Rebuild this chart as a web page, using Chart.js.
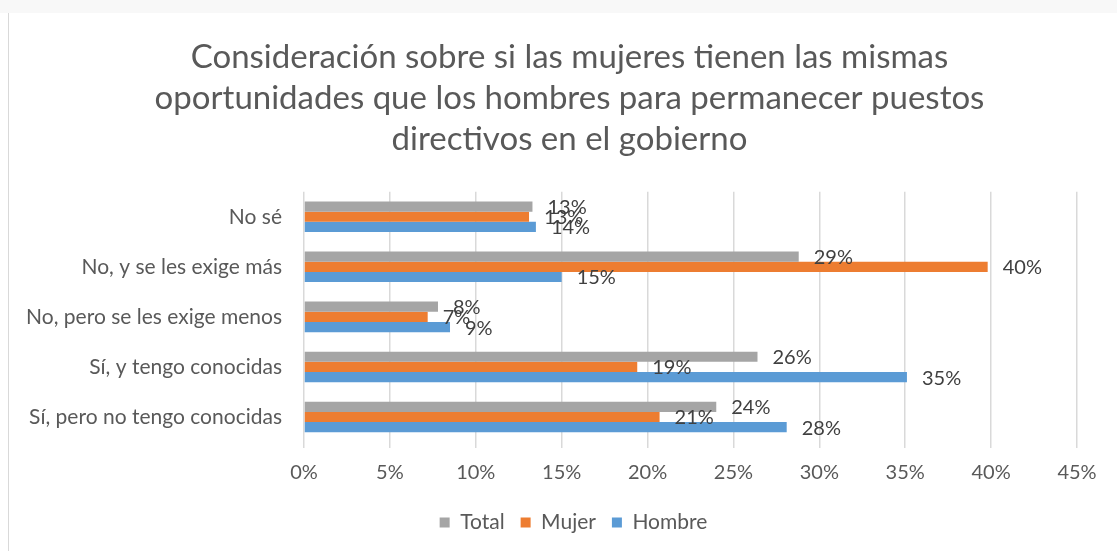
<!DOCTYPE html>
<html>
<head>
<meta charset="utf-8">
<script src="https://cdn.jsdelivr.net/npm/chart.js@4"></script>
<style>
  html, body { margin: 0; padding: 0; background: #fff; }
  #wrap { position: relative; width: 1117px; height: 551px; overflow: hidden; }
  #topstrip { position: absolute; left: 0; top: 0; width: 1117px; height: 13px; background: #f8f8f8; }
  #frame { position: absolute; left: 8px; top: 13px; width: 1109px; height: 538px; border-left: 1px solid #d9d9d9; }
  canvas { position: absolute; left: 0; top: 0; }
</style>
</head>
<body>
<div id="wrap">
  <div id="topstrip"></div>
  <div id="frame"></div>
  <canvas id="chart" width="1117" height="551"></canvas>
</div>
<script>
const categories = [
  "No sé",
  "No, y se les exige más",
  "No, pero se les exige menos",
  "Sí, y tengo conocidas",
  "Sí, pero no tengo conocidas"
];
// values in percent
const totalValues = [13.3, 28.8, 7.8, 26.4, 24.0];
const mujerValues = [13.1, 39.8, 7.2, 19.4, 20.7];
const hombreValues = [13.5, 15.0, 8.5, 35.1, 28.1];
const xTicks = [0, 5, 10, 15, 20, 25, 30, 35, 40, 45];

const titleLines = [
  "Consideración sobre si las mujeres tienen las mismas",
  "oportunidades que los hombres para permanecer puestos",
  "directivos en el gobierno"
];

const FONT = "Lato, 'Open Sans', sans-serif";

// draws the % labels next to each bar (no datalabels plugin available)
const barLabels = {
  id: "barLabels",
  afterDatasetsDraw(chart) {
    const ctx = chart.ctx;
    ctx.save();
    ctx.font = "20px " + FONT;
    ctx.fillStyle = "#404040";
    ctx.textAlign = "left";
    ctx.textBaseline = "middle";
    chart.data.datasets.forEach((ds, i) => {
      const meta = chart.getDatasetMeta(i);
      meta.data.forEach((bar, j) => {
        ctx.fillText(Math.round(ds.data[j]) + "%", bar.x + 15, bar.y + 1);
      });
    });
    ctx.restore();
  }
};

// Excel's title/legend are not centred on the canvas, nudge them over
const boxShift = {
  id: "boxShift",
  afterLayout(chart) {
    const lg = chart.legend;
    lg.left += 35;
    lg.right += 35;
    const tt = chart.titleBlock;
    if (tt) {
      tt.left += 31;
      tt.right += 31;
    }
  }
};

new Chart(document.getElementById("chart"), {
  type: "bar",
  data: {
    labels: categories,
    datasets: [
      { label: "Total", data: totalValues, backgroundColor: "#a5a5a5" },
      { label: "Mujer", data: mujerValues, backgroundColor: "#ed7d31" },
      { label: "Hombre", data: hombreValues, backgroundColor: "#5b9bd5" }
    ]
  },
  options: {
    indexAxis: "y",
    responsive: false,
    animation: false,
    datasets: {
      bar: { categoryPercentage: 0.61, barPercentage: 1.0 }
    },
    layout: { padding: { left: 0, right: 40, top: 0, bottom: 8 } },
    plugins: {
      title: {
        display: true,
        text: titleLines,
        color: "#595959",
        font: { family: FONT, size: 33, weight: "normal", lineHeight: 1.24 },
        padding: { top: 37, bottom: 32 }
      },
      legend: {
        position: "bottom",
        labels: {
          color: "#595959",
          font: { family: FONT, size: 21 },
          boxWidth: 10,
          boxHeight: 10,
          padding: 16
        }
      },
      tooltip: { enabled: false }
    },
    scales: {
      x: {
        min: 0,
        max: 45,
        ticks: {
          stepSize: 5,
          color: "#595959",
          font: { family: FONT, size: 20 },
          padding: 13,
          callback: (val) => val + "%"
        },
        afterBuildTicks: (scale) => {
          scale.ticks = xTicks.map((v) => ({ value: v }));
        },
        afterFit: (scale) => { scale.height -= 2; },
        grid: { color: "#d9d9d9", lineWidth: 1.5, tickLength: 6 },
        border: { display: false }
      },
      y: {
        afterFit: (scale) => { scale.width = 304; },
        ticks: {
          color: "#595959",
          font: { family: FONT, size: 21 },
          padding: 14
        },
        grid: { display: false },
        border: { display: false }
      }
    }
  },
  plugins: [barLabels, boxShift]
});
</script>
</body>
</html>
